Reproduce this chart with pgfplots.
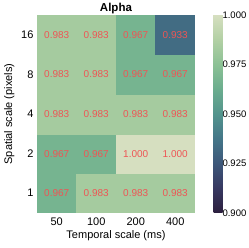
\documentclass[border=0pt]{standalone}
\usepackage{pgfplots}
\pgfplotsset{compat=1.18}
\usepackage{pgfplotstable}
\usepackage{fontspec}
\setmainfont{Liberation Sans}
\pgfplotstableread{
x y c lab
0 0 0.96667 0.967
1 0 0.98333 0.983
2 0 0.98333 0.983
3 0 0.98333 0.983
0 1 0.96667 0.967
1 1 0.96667 0.967
2 1 1.00000 1.000
3 1 1.00000 1.000
0 2 0.98333 0.983
1 2 0.98333 0.983
2 2 0.98333 0.983
3 2 0.98333 0.983
0 3 0.98333 0.983
1 3 0.98333 0.983
2 3 0.96667 0.967
3 3 0.96667 0.967
0 4 0.98333 0.983
1 4 0.98333 0.983
2 4 0.96667 0.967
3 4 0.93333 0.933
}\heat
\definecolor{annot}{RGB}{238,85,85}
\begin{document}
\begin{tikzpicture}
\begin{axis}[
  at={(0,0)}, anchor=south west,
  width=158pt, height=198pt, scale only axis,
  xmin=-0.5, xmax=3.5, ymin=-0.5, ymax=4.5,
  xtick={0,1,2,3}, xticklabels={50,100,200,400},
  ytick={0,1,2,3,4}, yticklabels={1,2,4,8,16},
  major tick length=0pt,
  axis line style={draw=none},
  tick label style={font=\fontsize{11}{13}\selectfont},
  xticklabel style={yshift=-1.5pt},
  /pgf/number format/assume math mode=true,
  xlabel={Temporal scale (ms)},
  ylabel={Spatial scale (pixels)},
  label style={font=\fontsize{11}{13}\selectfont},
  xlabel style={yshift=2.5pt},
  title={\textbf{Alpha}},
  every axis title/.style={at={(0.5,1)}, anchor=base, yshift=3.5pt, font=\fontsize{11.5}{13}\selectfont},
  colormap={ch}{rgb255=(44,31,62) rgb255=(55,56,97) rgb255=(61,87,122) rgb255=(68,118,136) rgb255=(83,148,141) rgb255=(107,173,142) rgb255=(140,193,149) rgb255=(178,208,164) rgb255=(214,223,192)},
  point meta min=0.9, point meta max=1.0,
  colorbar,
  colorbar style={
    width=9pt,
    at={(parent axis.north east)}, anchor=north west, xshift=10pt,
    ytick={0.9,0.925,0.95,0.975,1.0},
    yticklabel style={/pgf/number format/fixed, /pgf/number format/precision=3, /pgf/number format/fixed zerofill, font=\fontsize{9.5}{11}\selectfont, xshift=-3.5pt},
    /pgf/number format/assume math mode=true,
    axis line style={draw=none},
    major tick length=0pt,
  },
]
\addplot[matrix plot*, mesh/cols=4, mesh/rows=5, point meta=explicit] table[x=x, y=y, meta=c] {\heat};
\addplot[draw=none, mark=none, nodes near coords, point meta=explicit symbolic,
  nodes near coords style={anchor=center, text=annot, font=\fontsize{10}{12}\selectfont}]
  table[x=x, y=y, meta=lab] {\heat};
\end{axis}
\pgfresetboundingbox
\path[use as bounding box] (-37pt,-35pt) rectangle (212pt,213pt);
\end{tikzpicture}
\end{document}
